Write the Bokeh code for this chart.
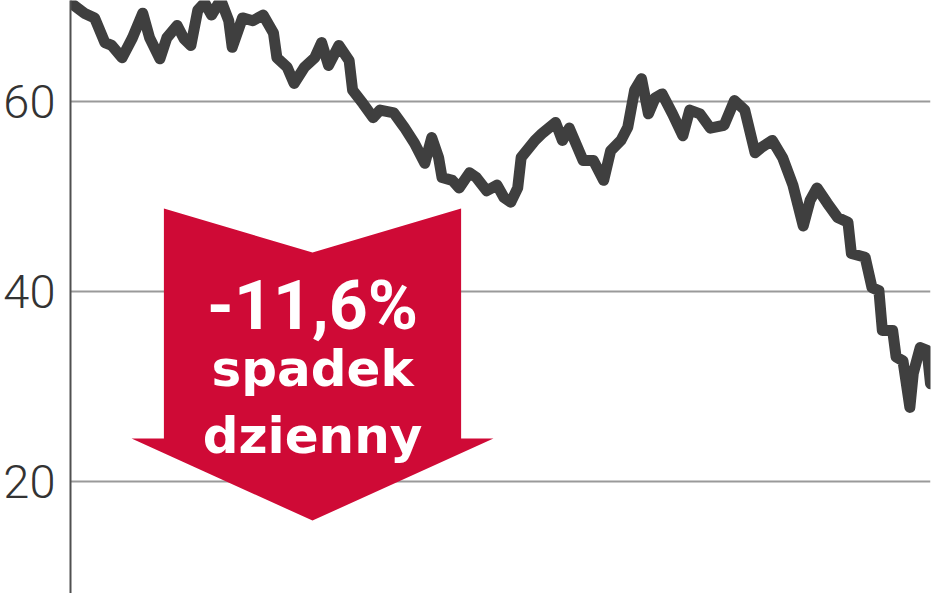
from bokeh.plotting import figure
from bokeh.models import Range1d, FixedTicker
from bokeh.core.properties import value
from bokeh.embed import file_html
from bokeh.resources import INLINE

# trading day index (x) and share price (y)
days = [0, 4, 7, 10, 12, 15, 18, 21, 23, 26, 28, 31, 33, 35, 37, 39, 41, 43, 44, 46,
        47, 50, 53, 56, 59, 60, 63, 65, 68, 71, 73, 75, 78, 81, 82, 85, 88, 90, 94, 97,
        100, 103, 105, 107, 108, 111, 113, 116, 118, 121, 124, 126, 128, 130, 131, 135,
        137, 141, 143, 145, 149, 152, 155, 157, 160, 162, 164, 166, 168, 170, 172, 175,
        178, 180, 183, 186, 190, 193, 196, 199, 201, 204, 207, 210, 213, 215, 217, 220,
        223, 226, 227, 231, 233, 235, 236, 239, 240, 242, 244, 245, 247, 249, 250]
price = [70.4, 69.3, 68.8, 66.2, 65.9, 64.6, 66.7, 69.3, 66.7, 64.5, 66.7, 68.0, 66.6,
         65.9, 69.6, 70.4, 69.1, 70.3, 70.4, 68.5, 65.7, 68.8, 68.5, 69.1, 67.2, 64.6,
         63.6, 61.9, 63.6, 64.6, 66.2, 63.8, 65.9, 64.3, 61.2, 59.8, 58.3, 59.1, 58.8,
         57.3, 55.6, 53.5, 56.2, 54.1, 52.0, 51.7, 50.9, 52.5, 52.0, 50.6, 51.2, 49.9,
         49.4, 50.9, 54.1, 55.9, 56.6, 57.8, 55.9, 57.2, 53.8, 53.8, 51.7, 54.8, 55.9,
         57.3, 61.2, 62.4, 58.7, 60.4, 60.8, 58.7, 56.4, 59.1, 58.7, 57.2, 57.5, 60.1,
         59.1, 54.6, 55.2, 55.9, 54.1, 51.2, 46.9, 49.6, 50.9, 49.3, 47.8, 47.3, 44.0,
         43.6, 40.4, 40.1, 35.9, 35.9, 33.1, 32.7, 27.8, 31.4, 34.1, 33.8, 30.3]

y_ticks = [20, 40, 60]
badge_lines = ["-11,6%", "spadek", "dzienny"]

# arrow annotation geometry (data units)
arrow_cx = 70.35
arrow_shaft_half = 43.2
arrow_head_half = 52.6
arrow_top = 48.74
arrow_notch = 44.11
arrow_shoulder = 24.53
arrow_tip = 15.89
text_pos = [38.51, 31.79, 24.74]
text_sizes = ["68px", "50px", "50px"]
text_fonts = ["Roboto", "DejaVu Sans", "DejaVu Sans"]

p = figure(width=948, height=593, output_backend="svg", toolbar_location=None,
           x_range=Range1d(0, 250), y_range=Range1d(8.211, 70.632),
           min_border_left=70, min_border_right=18, min_border_top=0,
           min_border_bottom=0)
p.outline_line_color = None
p.background_fill_color = "white"
p.border_fill_color = "white"
p.xaxis.visible = False
p.xgrid.visible = False

p.ygrid.ticker = FixedTicker(ticks=y_ticks)
p.ygrid.grid_line_color = "#9a9a9a"
p.ygrid.grid_line_width = 2

ax = p.yaxis[0]
ax.ticker = FixedTicker(ticks=y_ticks)
ax.axis_line_color = "#505050"
ax.axis_line_width = 2
ax.major_tick_line_color = None
ax.minor_tick_line_color = None
ax.major_tick_out = 0
ax.major_tick_in = 0
ax.major_label_standoff = 15
ax.major_label_text_font = "Roboto Light"
ax.major_label_text_font_size = "47px"
ax.major_label_text_color = "#333333"

p.line(days, price, line_width=11, line_color="#3f3f3f", line_join="round",
       line_cap="round")

ax_x = [arrow_cx - arrow_shaft_half, arrow_cx, arrow_cx + arrow_shaft_half,
        arrow_cx + arrow_shaft_half, arrow_cx + arrow_head_half, arrow_cx,
        arrow_cx - arrow_head_half, arrow_cx - arrow_shaft_half]
ax_y = [arrow_top, arrow_notch, arrow_top, arrow_shoulder, arrow_shoulder,
        arrow_tip, arrow_shoulder, arrow_shoulder]
p.patch(ax_x, ax_y, fill_color="#cf0a36", line_color=None)

for txt, yb, fs, fn in zip(badge_lines, text_pos, text_sizes, text_fonts):
    p.text(x=[arrow_cx], y=[yb], text=[txt], text_color="white",
           text_font=value(fn), text_font_size=fs, text_font_style="bold",
           text_align="center", text_baseline="alphabetic")

open("out.html", "w").write(file_html(p, INLINE))
